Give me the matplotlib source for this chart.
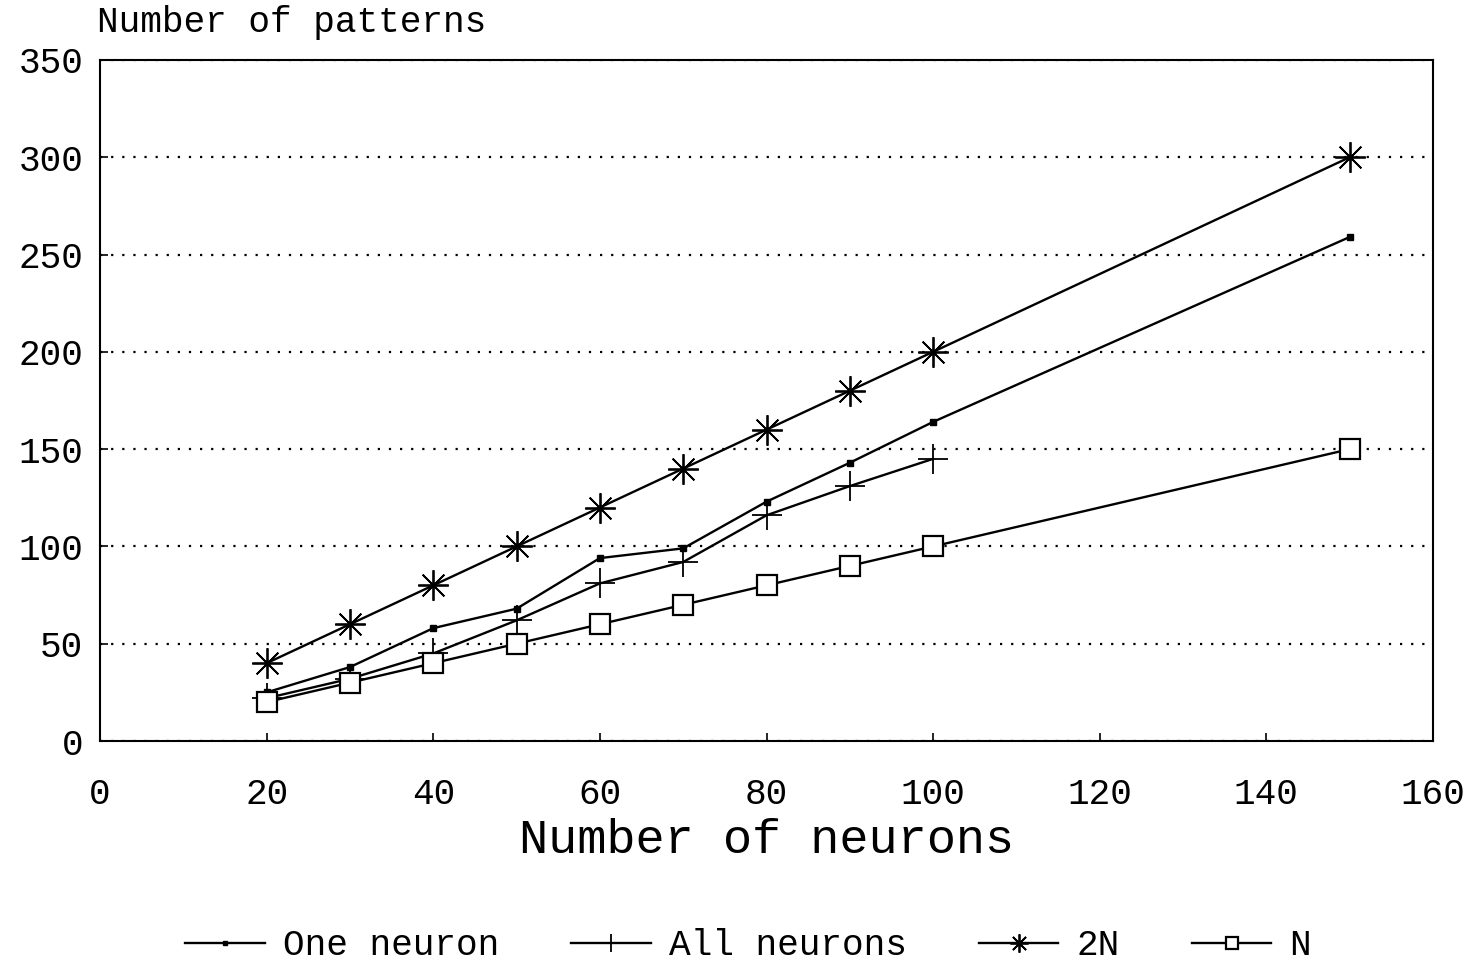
import matplotlib
matplotlib.use("Agg")
import matplotlib.pyplot as plt

plt.rcParams['font.family'] = ['Liberation Mono', 'DejaVu Sans Mono']

# data
neurons = [20, 30, 40, 50, 60, 70, 80, 90, 100, 150]
one_neuron = [25, 38, 58, 68, 94, 99, 123, 143, 164, 259]
neurons_all = [20, 30, 40, 50, 60, 70, 80, 90, 100]
all_neurons = [22, 32, 45, 62, 81, 92, 116, 131, 145]
two_n = [40, 60, 80, 100, 120, 140, 160, 180, 200, 300]
n_line = [20, 30, 40, 50, 60, 70, 80, 90, 100, 150]

xticks = [0, 20, 40, 60, 80, 100, 120, 140, 160]
yticks = [0, 50, 100, 150, 200, 250, 300, 350]

fig = plt.figure(figsize=(14.67, 9.67), dpi=100)
ax = fig.add_axes([0.0682, 0.2337, 0.9086, 0.7043])

lw = 1.7
ax.plot(neurons, one_neuron, color='black', lw=lw, marker='s', ms=5, label='One neuron')
ax.plot(neurons_all, all_neurons, color='black', lw=lw, marker='+', ms=22, mew=1.3, label='All neurons')
ax.plot(neurons, two_n, color='black', lw=lw, marker=(8, 2, 0), ms=22, mew=1.3, label='2N')
ax.plot(neurons, n_line, color='black', lw=lw, marker='s', ms=14, mfc='white', mew=1.6, label='N')

ax.set_xlim(0, 160)
ax.set_ylim(0, 350)
ax.set_xticks(xticks)
ax.set_yticks(yticks)
ax.tick_params(direction='in', length=6, width=1.2, labelsize=26)
ax.tick_params(axis='x', pad=26)
ax.tick_params(axis='y', pad=12)
ax.yaxis.grid(True, linestyle=(0, (1, 4)), color='black', lw=1.6)
for s in ax.spines.values():
    s.set_linewidth(1.5)

ax.set_xlabel('Number of neurons', fontsize=35, labelpad=4)
fig.text(0.066, 0.977, 'Number of patterns', fontsize=26, ha='left', va='center')

fig.legend(loc='center', bbox_to_anchor=(0.51, 0.022), ncol=4, frameon=False,
           fontsize=26, handlelength=2.2, columnspacing=2.0, handletextpad=0.5,
           markerscale=0.6)

fig.savefig('out.png', dpi=100)
